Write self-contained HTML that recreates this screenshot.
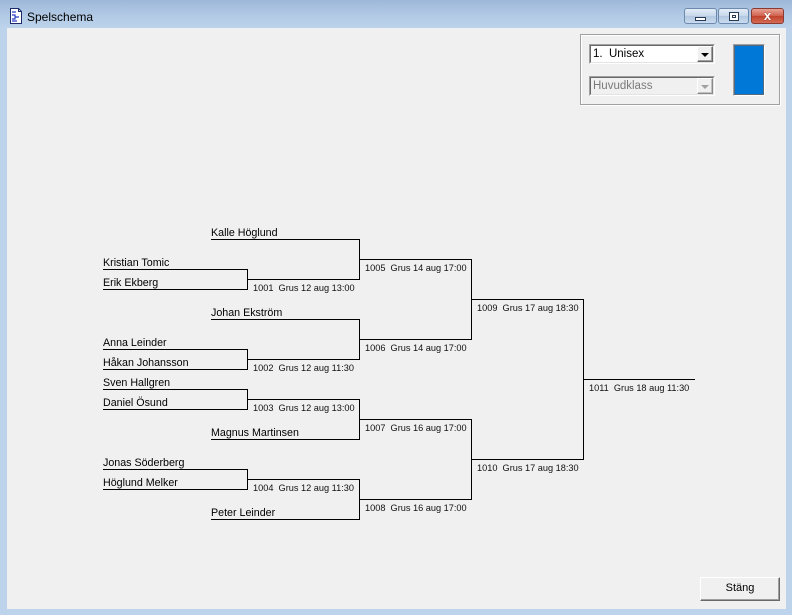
<!DOCTYPE html>
<html><head><meta charset="utf-8"><style>
html,body{margin:0;padding:0;}
body{width:792px;height:615px;position:relative;overflow:hidden;background:#bcd3eb;font-family:"Liberation Sans",Arial,sans-serif;}
.title{position:absolute;left:0;top:0;width:792px;height:28px;background:linear-gradient(#9db8d8,#b3cbe6 60%,#bdd3ec);}
.frame{position:absolute;left:0;top:28px;width:792px;height:587px;background:#bcd3eb;}
.client{position:absolute;left:7px;top:28px;width:779px;height:581px;background:#f0f0f0;}
.ttext{position:absolute;left:27px;top:10px;font-size:12px;color:#000;}
.tb{position:absolute;top:8px;height:16px;border:1px solid #6d89ad;border-radius:3px;box-sizing:border-box;background:linear-gradient(#e4edf7,#c5d6ea 50%,#b3c8e0 51%,#c9dbef);}
.tb.close{border-color:#8a3a30;background:linear-gradient(#e8a294,#d0604d 50%,#c0412c 51%,#d56c55);}
.abs{position:absolute;box-sizing:border-box;}
</style></head><body>
<div class="title"></div>
<div class="frame"></div>
<!-- icon -->
<svg class="abs" style="left:9px;top:8px" width="14" height="16" viewBox="0 0 14 16">
<path d="M1.5 0.5h8l3 3v12h-11z" fill="#fff" stroke="#1a2a6a"/>
<path d="M9.5 0.5v3h3" fill="none" stroke="#1a2a6a"/>
<path d="M3 4h4M3 7h3v4h-3M6 9h4M3 13h5" fill="none" stroke="#2a3cc8" stroke-width="1.2"/>
</svg>
<div class="ttext">Spelschema</div>
<div class="tb" style="left:684px;width:33px;"><div class="abs" style="left:10px;top:8px;width:11px;height:4px;border:1px solid #2a3a55;background:#fff;"></div></div>
<div class="tb" style="left:718px;width:31px;"><div class="abs" style="left:10px;top:3px;width:10px;height:9px;border:1px solid #2a3a55;background:#fff;"><div class="abs" style="left:2px;top:2px;width:4px;height:3px;border:1px solid #2a3a55;"></div></div></div>
<div class="tb close" style="left:751px;width:33px;"><div class="abs" style="left:0;top:-1px;width:31px;text-align:center;font-size:13px;font-weight:bold;color:#fff;line-height:16px;text-shadow:0 0 1px #6a1a10;">x</div></div>
<div class="client"></div>

<!-- group box -->
<div class="abs" style="left:580px;top:34px;width:200px;height:71px;border:1px solid #a0a0a0;box-shadow:inset 1px 1px 0 #fff,1px 1px 0 #fff;"></div>
<!-- combo 1 -->
<div class="abs" style="left:589px;top:44px;width:126px;height:20px;border-top:1px solid #a0a0a0;border-left:1px solid #a0a0a0;border-right:1px solid #fff;border-bottom:1px solid #fff;">
 <div class="abs" style="left:0;top:0;width:124px;height:18px;border-top:1px solid #696969;border-left:1px solid #696969;border-right:1px solid #e3e3e3;border-bottom:1px solid #e3e3e3;background:#fff;">
  <div class="abs" style="left:2px;top:2px;font-size:11.5px;line-height:13px;color:#000;white-space:pre;">1.  Unisex</div>
  <div class="abs" style="left:106px;top:0;width:16px;height:16px;background:#f0f0f0;border-top:1px solid #fff;border-left:1px solid #fff;border-right:1px solid #696969;border-bottom:1px solid #696969;box-shadow:inset -1px -1px 0 #a0a0a0;">
   <div class="abs" style="left:3px;top:6px;width:0;height:0;border-left:4px solid transparent;border-right:4px solid transparent;border-top:4px solid #000;"></div>
  </div>
 </div>
</div>
<!-- combo 2 -->
<div class="abs" style="left:589px;top:76px;width:126px;height:20px;border-top:1px solid #a0a0a0;border-left:1px solid #a0a0a0;border-right:1px solid #fff;border-bottom:1px solid #fff;">
 <div class="abs" style="left:0;top:0;width:124px;height:18px;border-top:1px solid #696969;border-left:1px solid #696969;border-right:1px solid #e3e3e3;border-bottom:1px solid #e3e3e3;background:#f0f0f0;">
  <div class="abs" style="left:2px;top:2px;font-size:11.5px;line-height:13px;color:#7a7a7a;">Huvudklass</div>
  <div class="abs" style="left:106px;top:0;width:16px;height:16px;background:#f0f0f0;border-top:1px solid #fff;border-left:1px solid #fff;border-right:1px solid #8a8a8a;border-bottom:1px solid #8a8a8a;box-shadow:inset -1px -1px 0 #c0c0c0;">
   <div class="abs" style="left:3px;top:6px;width:0;height:0;border-left:4px solid transparent;border-right:4px solid transparent;border-top:4px solid #a0a0a0;"></div>
  </div>
 </div>
</div>
<!-- colour box -->
<div class="abs" style="left:733px;top:44px;width:32px;height:52px;border-top:1px solid #a0a0a0;border-left:1px solid #a0a0a0;border-right:1px solid #fff;border-bottom:1px solid #fff;">
 <div class="abs" style="left:0;top:0;width:30px;height:50px;border:1px solid #5a6a7a;background:#0078d7;"></div>
</div>

<!-- Stäng button -->
<div class="abs" style="left:700px;top:577px;width:80px;height:24px;border-top:1px solid #fff;border-left:1px solid #fff;border-right:1px solid #696969;border-bottom:1px solid #696969;box-shadow:inset -1px -1px 0 #a0a0a0;background:#f0f0f0;">
 <div class="abs" style="left:0;top:4px;width:78px;text-align:center;font-size:11px;line-height:13px;color:#000;">Stäng</div>
</div>

<!-- bracket -->
<svg class="abs" style="left:0;top:0" width="792" height="615" viewBox="0 0 792 615">
<g stroke="#000" stroke-width="1" fill="none" shape-rendering="crispEdges">
<path d="M103 269.5H247.5V289.5H103"/>
<path d="M103 349.5H247.5V369.5H103"/>
<path d="M103 389.5H247.5V409.5H103"/>
<path d="M103 469.5H247.5V489.5H103"/>
<path d="M211 239.5H359.5V279.5H247"/>
<path d="M211 319.5H359.5V359.5H247"/>
<path d="M247 399.5H359.5V439.5H211"/>
<path d="M247 479.5H359.5V519.5H211"/>
<path d="M359 259.5H471.5V339.5H359"/>
<path d="M359 419.5H471.5V499.5H359"/>
<path d="M471 299.5H583.5V459.5H471"/>
<path d="M583 379.5H695"/>
</g>
<g font-family="Liberation Sans, Arial, sans-serif" font-size="10.7" fill="#000">
<text x="211" y="236">Kalle Höglund</text>
<text x="103" y="266">Kristian Tomic</text>
<text x="103" y="286">Erik Ekberg</text>
<text x="211" y="316">Johan Ekström</text>
<text x="103" y="346">Anna Leinder</text>
<text x="103" y="366">Håkan Johansson</text>
<text x="103" y="386">Sven Hallgren</text>
<text x="103" y="406">Daniel Ösund</text>
<text x="211" y="436">Magnus Martinsen</text>
<text x="103" y="466">Jonas Söderberg</text>
<text x="103" y="486">Höglund Melker</text>
<text x="211" y="516">Peter Leinder</text>
</g>
<g font-family="Liberation Sans, Arial, sans-serif" font-size="9.2" fill="#111">
<text x="253" y="291">1001&#160;&#160;Grus 12 aug 13:00</text>
<text x="253" y="371">1002&#160;&#160;Grus 12 aug 11:30</text>
<text x="253" y="411">1003&#160;&#160;Grus 12 aug 13:00</text>
<text x="253" y="491">1004&#160;&#160;Grus 12 aug 11:30</text>
<text x="365" y="271">1005&#160;&#160;Grus 14 aug 17:00</text>
<text x="365" y="351">1006&#160;&#160;Grus 14 aug 17:00</text>
<text x="365" y="431">1007&#160;&#160;Grus 16 aug 17:00</text>
<text x="365" y="511">1008&#160;&#160;Grus 16 aug 17:00</text>
<text x="477" y="311">1009&#160;&#160;Grus 17 aug 18:30</text>
<text x="477" y="471">1010&#160;&#160;Grus 17 aug 18:30</text>
<text x="589" y="391">1011&#160;&#160;Grus 18 aug 11:30</text>
</g>
</svg>
</body></html>
